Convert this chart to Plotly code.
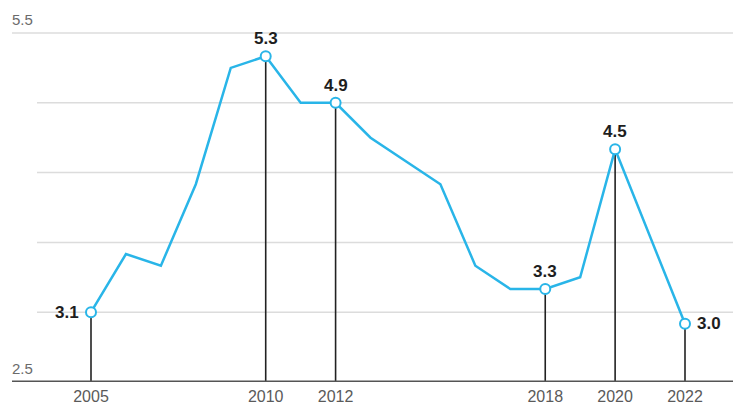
import plotly.graph_objects as go

years = list(range(2005, 2023))
values = [3.1, 3.6, 3.5, 4.2, 5.2, 5.3, 4.9, 4.9, 4.6, 4.4, 4.2, 3.5, 3.3, 3.3, 3.4, 4.5, 3.75, 3.0]
highlight_years = [2005, 2010, 2012, 2018, 2020, 2022]
grid_vals = [3.1, 3.7, 4.3, 4.9]
y_min, y_max = 2.5, 5.5
y_labels = ["2.5", "5.5"]

val_of = dict(zip(years, values))

W, H = 733, 409
px_per_year = (685 - 91) / 17
x_range = [2005 - 91 / px_per_year, 2022 + (W - 685) / px_per_year]
px_per_unit = (382 - 33) / 3.0
t_m, b_m = 10, H - 382
y_range = [y_min, y_min + (382 - t_m) / px_per_unit]

LINE = "#29b5e8"
FONT = "Liberation Sans, Arial"
fig = go.Figure()

# stems
for yr in highlight_years:
    fig.add_trace(go.Scatter(x=[yr, yr], y=[y_min, val_of[yr]], mode="lines",
                             line=dict(color="#222222", width=1.6),
                             hoverinfo="skip", showlegend=False))

# main line
fig.add_trace(go.Scatter(x=years, y=values, mode="lines",
                         line=dict(color=LINE, width=2.5),
                         showlegend=False))
# markers
fig.add_trace(go.Scatter(x=highlight_years, y=[val_of[y] for y in highlight_years],
                         mode="markers",
                         marker=dict(size=10, color="white", line=dict(color=LINE, width=2)),
                         showlegend=False))

shapes = []
for g in grid_vals:
    shapes.append(dict(type="line", xref="paper", yref="y", x0=37 / W, x1=1, y0=g, y1=g,
                       line=dict(color="#dcdcdc", width=1.5), layer="below"))
shapes.append(dict(type="line", xref="paper", yref="y", x0=12 / W, x1=1, y0=y_max, y1=y_max,
                   line=dict(color="#dcdcdc", width=1.5), layer="below"))
shapes.append(dict(type="line", xref="paper", yref="y", x0=12 / W, x1=1, y0=y_min, y1=y_min,
                   line=dict(color="#555555", width=3.2), layer="above"))

annotations = []
for yr in highlight_years:
    v = val_of[yr]
    txt = f"{v:.1f}"
    if yr == highlight_years[0]:
        a = dict(xanchor="right", yanchor="middle", xshift=-10, yshift=0)
    elif yr == highlight_years[-1]:
        a = dict(xanchor="left", yanchor="middle", xshift=10, yshift=0)
    else:
        a = dict(xanchor="center", yanchor="bottom", xshift=0, yshift=6)
    annotations.append(dict(x=yr, y=v, xref="x", yref="y", text=f"<b>{txt}</b>",
                            showarrow=False,
                            font=dict(family=FONT, size=17, color="#1e1e1e"),
                            **a))

for lab, yv in zip(y_labels, [y_min, y_max]):
    annotations.append(dict(x=10 / W, y=yv, xref="paper", yref="y", text=lab, showarrow=False,
                            xanchor="left", yanchor="bottom", yshift=3,
                            font=dict(family=FONT, size=15, color="#6b6b6b")))

fig.update_layout(
    width=W, height=H,
    margin=dict(l=0, r=0, t=t_m, b=b_m, pad=0),
    plot_bgcolor="white", paper_bgcolor="white",
    shapes=shapes, annotations=annotations,
    xaxis=dict(range=x_range, tickvals=highlight_years, ticktext=[str(y) for y in highlight_years],
               showgrid=False, zeroline=False, showline=False, ticks="", automargin=False,
               ticklabelstandoff=3,
               tickfont=dict(family=FONT, size=16, color="#5a5a5a")),
    yaxis=dict(range=y_range, showgrid=False, zeroline=False, showline=False,
               showticklabels=False, ticks="", automargin=False),
    showlegend=False,
)

fig.write_html("out.html", config={"displayModeBar": False},
               post_script="document.body.style.margin='0';document.body.style.overflow='hidden';")
